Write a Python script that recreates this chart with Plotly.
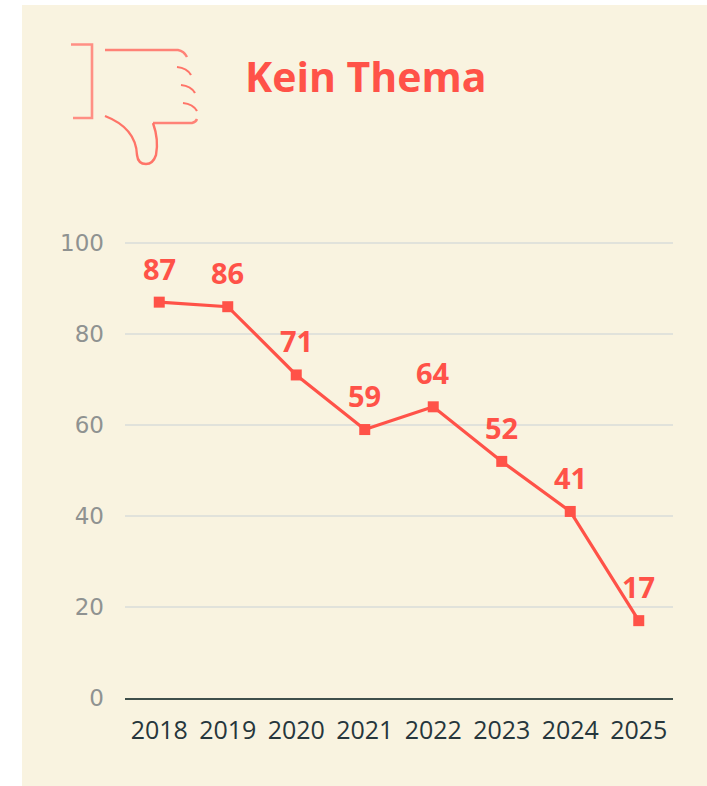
import plotly.graph_objects as go

years = ["2018","2019","2020","2021","2022","2023","2024","2025"]
values = [87,86,71,59,64,52,41,17]
title = "Kein Thema"
RED = "#FF5248"
ICON = "#FF7468"
BG = "#F9F3E0"
W, H = 707, 786
FONT = "Open Sans"

def fx(p): return p / W
def fy(p): return 1 - p / H

def path(cmds):
    out = []
    for c, *pts in cmds:
        coords = " ".join(f"{fx(pts[i]):.5f},{fy(pts[i+1]):.5f}" for i in range(0, len(pts), 2))
        out.append(f"{c} {coords}")
    return " ".join(out)

icon_paths = [
    ([("M",71,44.5),("L",92,44.5),("L",92,118),("L",73,118)], 2.6, "#FF8F84"),
    ([("M",105,50),("L",178,50),("Q",184,51,187,57)], 2.4, "#FF8277"),
    ([("M",177,67),("Q",187,68,191,75)], 2.2, ICON),
    ([("M",181,85),("Q",191,86,195,93)], 2.2, ICON),
    ([("M",183,103),("Q",193,104,197,111)], 2.2, ICON),
    ([("M",153,123),("L",192,123),("Q",196,122,197,119)], 2.4, "#FF8277"),
    ([("M",153,123),("Q",159,140,156,155),("Q",153,164,146,164),("Q",138,164,137,155),("Q",136,128,105,116)], 2.4, ICON),
]

shapes = [dict(type="rect", xref="paper", yref="paper", x0=fx(22), x1=1, y0=0, y1=fy(5),
               fillcolor=BG, line_width=0, layer="below")]
for cmds, w, col in icon_paths:
    shapes.append(dict(type="path", xref="paper", yref="paper", path=path(cmds),
                       line=dict(color=col, width=w), layer="above"))

annotations = [dict(text="<b>" + title + "</b>", xref="paper", yref="paper", x=fx(243), y=fy(76),
                    xanchor="left", yanchor="middle", showarrow=False,
                    font=dict(family=FONT, size=41, color=RED))]
for i, v in enumerate(values):
    annotations.append(dict(text="<b>" + str(v) + "</b>", x=i, y=v, xref="x", yref="y", showarrow=False,
                            yshift=34, xanchor="center", yanchor="middle",
                            font=dict(family=FONT, size=29, color=RED)))

fig = go.Figure()
fig.add_trace(go.Scatter(x=years, y=values, mode="lines+markers",
    line=dict(color=RED, width=3.2), marker=dict(symbol="square", size=11, color=RED), cliponaxis=False))

fig.update_layout(
    width=W, height=H, paper_bgcolor="white", plot_bgcolor="rgba(0,0,0,0)", showlegend=False,
    margin=dict(l=0, r=0, t=0, b=0),
    font=dict(family=FONT),
    xaxis=dict(domain=[fx(125), fx(673)], type="category", range=[-0.5, 7.5], automargin=False, showgrid=False, showline=True,
               linecolor="#3F4F4B", linewidth=2, ticks="", ticklabelstandoff=9,
               tickfont=dict(size=25, color="#26363C")),
    yaxis=dict(domain=[fy(698), fy(238.45)], range=[0,101], automargin=False, tickvals=[0,20,40,60,80,100],
               gridcolor="#E1E2DB", gridwidth=2, zeroline=False, ticks="", ticklabelstandoff=20,
               tickfont=dict(family="DejaVu Sans", size=23, color="#8F9291")),
    annotations=annotations,
    shapes=shapes,
)
fig.write_html("out.html", post_script="document.body.style.margin='0';", config={"displayModeBar": False})
